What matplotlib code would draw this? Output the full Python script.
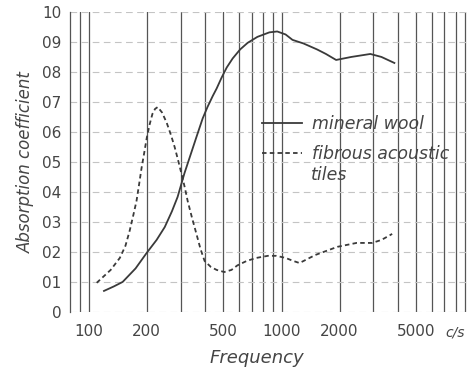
import matplotlib.pyplot as plt
from matplotlib.ticker import FixedLocator, NullFormatter

# mineral wool (solid curve)
wool_freq = [120, 135, 150, 175, 200, 225, 248, 270, 289, 314, 340, 362, 390,
             413, 440, 461, 488, 520, 558, 610, 667, 750, 865, 950, 1050,
             1140, 1300, 1530, 1700, 1920, 2300, 2890, 3300, 3850]
wool_abs = [0.07, 0.085, 0.10, 0.145, 0.197, 0.24, 0.283, 0.335, 0.383, 0.463,
            0.53, 0.583, 0.645, 0.683, 0.72, 0.745, 0.78, 0.815, 0.845, 0.875,
            0.897, 0.917, 0.932, 0.935, 0.925, 0.907, 0.895, 0.875, 0.86,
            0.84, 0.85, 0.86, 0.85, 0.83]

# fibrous acoustic tiles (dashed curve)
tiles_freq = [110, 130, 145, 155, 163, 170, 177, 183, 188, 194, 200, 207, 214,
              221, 228, 240, 254, 267, 279, 291, 303, 315, 326, 343, 362, 380,
              399, 430, 461, 505, 550, 590, 660, 740, 850, 940, 1050, 1150,
              1240, 1500, 1950, 2450, 2950, 3300, 3750]
tiles_abs = [0.097, 0.14, 0.18, 0.22, 0.27, 0.32, 0.37, 0.43, 0.48, 0.53, 0.58,
             0.625, 0.66, 0.677, 0.683, 0.665, 0.63, 0.59, 0.55, 0.505, 0.46,
             0.415, 0.37, 0.315, 0.26, 0.21, 0.17, 0.15, 0.14, 0.133, 0.14,
             0.155, 0.17, 0.18, 0.187, 0.187, 0.18, 0.17, 0.163, 0.19, 0.217,
             0.23, 0.23, 0.24, 0.26]

x_ticks = [100, 200, 500, 1000, 2000, 5000]
x_labels = ["100", "200", "500", "1000", "2000", "5000"]
y_ticks = [0, 0.1, 0.2, 0.3, 0.4, 0.5, 0.6, 0.7, 0.8, 0.9, 1.0]
y_labels = ["0", "01", "02", "03", "04", "05", "06", "07", "08", "09", "10"]
grid_freq = [90, 100, 200, 300, 400, 500, 600, 700, 800, 900, 1000,
             2000, 3000, 4000, 5000, 6000, 7000, 8000, 9000]

ink = "#3a3a3a"
txt = "#454545"

fig = plt.figure(figsize=(4.7, 3.74), dpi=100)
ax = fig.add_axes([0.149, 0.166, 0.851, 0.802])
ax.set_xscale("log")
ax.set_xlim(80, 9500)
ax.set_ylim(0, 1.0)

# grid: dark vertical rules, faint dashed horizontals
for f in grid_freq:
    ax.axvline(f, color="#555555", lw=0.9, zorder=1)
for v in y_ticks:
    ax.axhline(v, color="#c4c4c4", lw=0.8, ls=(0, (6, 4)), zorder=1)

ax.plot(wool_freq, wool_abs, color=ink, lw=1.3, label="mineral wool", zorder=3)
ax.plot(tiles_freq, tiles_abs, color=ink, lw=1.3, ls=(0, (2.5, 1.8)),
        label="fibrous acoustic", zorder=3)

ax.xaxis.set_major_locator(FixedLocator(x_ticks))
ax.xaxis.set_minor_formatter(NullFormatter())
ax.set_xticks(x_ticks, x_labels)
ax.set_yticks(y_ticks, y_labels)
ax.tick_params(axis="x", which="both", length=0, pad=9, labelsize=11,
               labelcolor=txt)
ax.tick_params(axis="y", length=0, pad=6, labelsize=11, labelcolor=txt)

for side in ["top", "right", "bottom"]:
    ax.spines[side].set_visible(False)
ax.spines["left"].set_color("#555555")
ax.spines["left"].set_linewidth(0.9)

ax.set_ylabel("Absorption coefficient", fontsize=12, style="italic",
              color=txt, labelpad=5)
ax.set_xlabel("Frequency", fontsize=13, style="italic", color=txt)
ax.xaxis.set_label_coords(0.4675, -0.125)
ax.text(0.9625, -0.07, "c/s", transform=ax.transAxes, fontsize=10,
        style="italic", color=txt, ha="center", va="center", clip_on=False)

leg = ax.legend(loc="upper left", bbox_to_anchor=(0.462, 0.68), frameon=False,
                handlelength=2.3, handletextpad=0.6, labelspacing=0.7,
                borderaxespad=0, prop={"style": "italic", "size": 12.5})
for t in leg.get_texts():
    t.set_color(txt)
for h in leg.get_lines():
    h.set_color(ink)
ax.text(0.603, 0.455, "tiles", transform=ax.transAxes, fontsize=12.5,
        style="italic", color=txt, ha="left", va="center")

fig.savefig("out.png", dpi=100, facecolor="white")
